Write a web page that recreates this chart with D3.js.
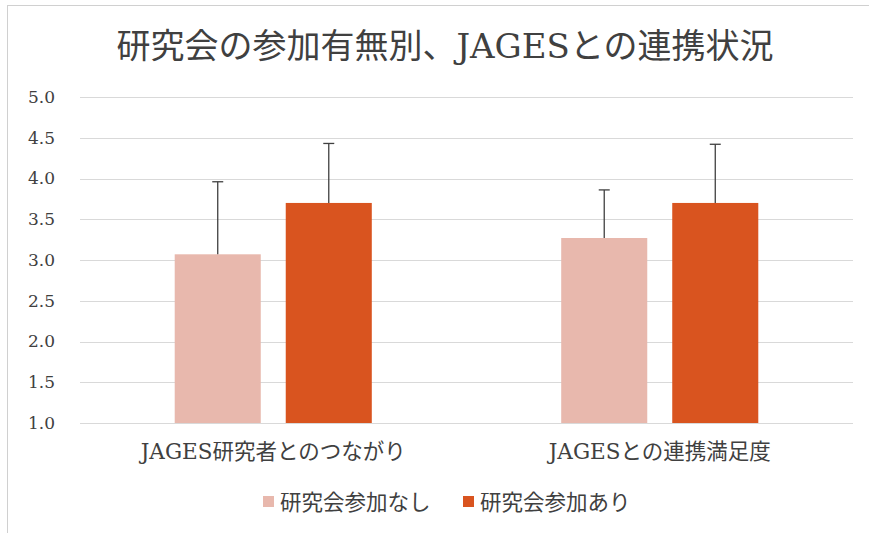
<!DOCTYPE html>
<html><head><meta charset="utf-8">
<script src="https://cdn.jsdelivr.net/npm/d3@7"></script>
<style>body{margin:0;background:#fff}</style>
</head><body>
<svg id="c" width="869" height="533"></svg>
<script>
const title = "研究会の参加有無別、JAGESとの連携状況";
const categories = ["JAGES研究者とのつながり", "JAGESとの連携満足度"];
const seriesNames = ["研究会参加なし", "研究会参加あり"];
const meansNone = [3.07, 3.27];
const meansYes = [3.70, 3.70];
const errNone = [0.89, 0.59];
const errYes = [0.73, 0.72];
const yTicks = [1.0, 1.5, 2.0, 2.5, 3.0, 3.5, 4.0, 4.5, 5.0];
const colors = ["#E8B8AD", "#D9541F"];

const svg = d3.select("#c");
const serif = "'DejaVu Serif','Noto Sans CJK JP',serif";
const sans = "'Noto Sans CJK JP','Noto Sans',sans-serif";

// border
svg.append("line").attr("x1",7.5).attr("x2",7.5).attr("y1",5).attr("y2",533).attr("stroke","#d0d0d0");
svg.append("line").attr("x1",7).attr("x2",869).attr("y1",5.5).attr("y2",5.5).attr("stroke","#d0d0d0");

const x0 = d3.scaleBand().domain(categories).range([80, 853]).paddingInner(0).paddingOuter(0);
const x1 = d3.scaleBand().domain(seriesNames).range([0, x0.bandwidth()]).paddingInner(0.225).paddingOuter(0.853);
const y = d3.scaleLinear().domain([1, 5]).range([423, 97]);

// grid
svg.append("g").selectAll("line").data(yTicks).join("line")
  .attr("x1",80).attr("x2",853)
  .attr("y1",d=>Math.round(y(d))+0.5).attr("y2",d=>Math.round(y(d))+0.5)
  .attr("stroke","#d9d9d9").attr("stroke-width",1);

// y labels
svg.append("g").selectAll("text").data(yTicks).join("text")
  .attr("x",55).attr("y",d=>y(d)).attr("dy","0.35em")
  .attr("text-anchor","end").attr("font-family",serif).attr("font-size",17).attr("fill","#404040")
  .text(d=>d.toFixed(1));

const data = categories.map((c,i)=>[
  {cat:c, s:seriesNames[0], v:meansNone[i], e:errNone[i], col:colors[0]},
  {cat:c, s:seriesNames[1], v:meansYes[i], e:errYes[i], col:colors[1]}
]).flat();

const g = svg.append("g");
g.selectAll("rect").data(data).join("rect")
  .attr("x",d=>x0(d.cat)+x1(d.s)).attr("width",x1.bandwidth())
  .attr("y",d=>y(d.v)).attr("height",d=>y(1)-y(d.v))
  .attr("fill",d=>d.col);

// error bars
const cx = d=>x0(d.cat)+x1(d.s)+x1.bandwidth()/2;
const eb = g.selectAll("g.eb").data(data).join("g");
eb.append("line")
  .attr("x1",cx).attr("x2",cx)
  .attr("y1",d=>y(d.v)).attr("y2",d=>y(d.v+d.e)).attr("stroke","#404040").attr("stroke-width",1.3);
eb.append("line")
  .attr("x1",d=>cx(d)-5.5).attr("x2",d=>cx(d)+5.5)
  .attr("y1",d=>y(d.v+d.e)).attr("y2",d=>y(d.v+d.e)).attr("stroke","#404040").attr("stroke-width",1.3);

// category labels
svg.append("g").selectAll("text").data(categories).join("text")
  .attr("x",d=>x0(d)+x0.bandwidth()/2).attr("y",459)
  .attr("text-anchor","middle").attr("font-family",serif).attr("font-size",21.5).attr("fill","#404040")
  .text(d=>d);

// title
svg.append("text").attr("x",445).attr("y",58).attr("text-anchor","middle")
  .attr("font-family",serif).attr("font-size",34).attr("fill","#404040").text(title);

// legend
const leg = svg.append("g");
const lx = [263, 463];
seriesNames.forEach((s,i)=>{
  leg.append("rect").attr("x",lx[i]).attr("y",496).attr("width",11).attr("height",11).attr("fill",colors[i]);
  leg.append("text").attr("x",lx[i]+17).attr("y",502).attr("dy","0.35em")
    .attr("font-family",sans).attr("font-size",21.5).attr("fill","#404040").text(s);
});
</script>
</body></html>
